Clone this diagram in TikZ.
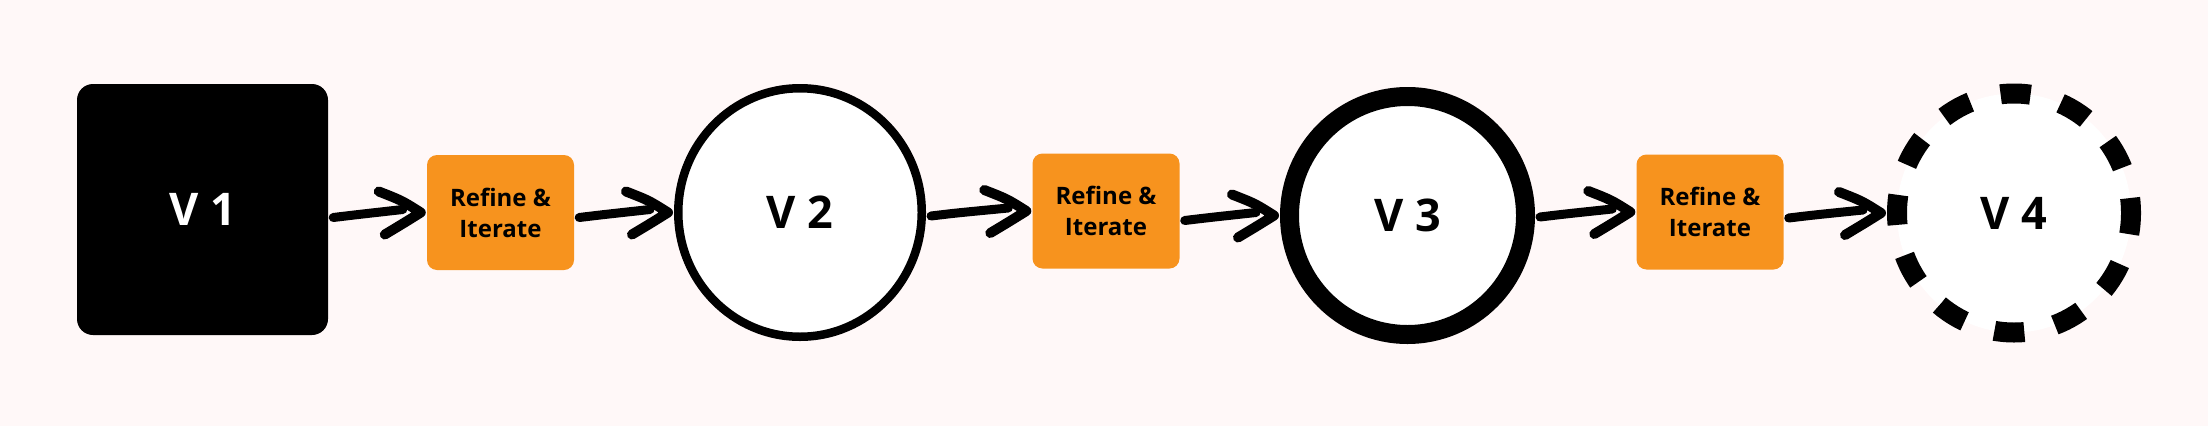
\documentclass[tikz,border=0pt]{standalone}
\usepackage{fontspec}
\setmainfont{Open Sans}
\usetikzlibrary{calc,shapes.geometric}
\definecolor{bgcol}{HTML}{FFF8F8}
\definecolor{orng}{HTML}{F7931E}
\begin{document}
\begin{tikzpicture}[x=1pt,y=-1pt,
  verbox/.style={draw=none,fill=black,rounded corners=16pt,minimum width=251pt,minimum height=251pt,inner sep=0pt,text=white,font=\fontsize{45}{50}\selectfont\bfseries},
  verell/.style={ellipse,draw=black,fill=white,inner sep=0pt,text=black,font=\fontsize{45}{50}\selectfont\bfseries},
  refbox/.style={fill=orng,rounded corners=10pt,minimum width=147pt,minimum height=115pt,inner sep=0pt,align=center,text=black,font=\fontsize{24}{31}\selectfont\bfseries},
  harrow/.style={draw=black,line width=9pt,line cap=round,line join=round}]
\fill[bgcol] (0,0) rectangle (2208,426);
\useasboundingbox (0,0) rectangle (2208,426);
\newcommand\handarrow[2]{%
  \draw[harrow] ($(#1.east |- #2.west)+(5,5)$) .. controls ($(#1.east |- #2.west)+(30,2)$) .. ($(#2.west)+(-24,-3)$);
  \draw[harrow,line width=10pt] ($(#2.west)+(-48,-21)$) .. controls ($(#2.west)+(-25,-12)$) .. ($(#2.west)+(-6,0)$)
     .. controls ($(#2.west)+(-22,10)$) .. ($(#2.west)+(-42,22)$);
}
\node[verbox] (v1) at (202.5,209.5) {V 1};
\node[refbox] (r1) at (500.5,212.5) {Refine \&\\Iterate};
\node[verell,line width=8.5pt,minimum width=243.5pt,minimum height=248.5pt] (v2) at (800,212.5) {V 2};
\node[refbox] (r2) at (1106,211) {Refine \&\\Iterate};
\node[verell,line width=19pt,minimum width=236pt,minimum height=238pt] (v3) at (1407.5,215.5) {V 3};
\node[refbox] (r3) at (1710,212) {Refine \&\\Iterate};
\node[verell,line width=20pt,minimum width=234pt,minimum height=239pt,dash pattern=on 30pt off 31.4pt,dash phase=15pt] (v4) at (2014,213) {V 4};
\handarrow{v1}{r1}
\handarrow{r1}{v2}
\handarrow{v2}{r2}
\handarrow{r2}{v3}
\handarrow{v3}{r3}
\handarrow{r3}{v4}
\end{tikzpicture}
\end{document}
